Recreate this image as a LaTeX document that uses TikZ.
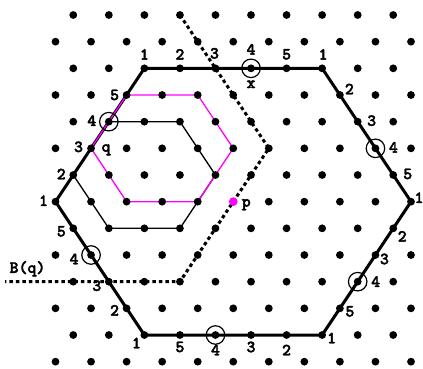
\documentclass[tikz,border=0pt]{standalone}
\usepackage{fontspec}
\newfontfamily\lblfont{lmmonolt10-bold}[Extension=.otf, FakeBold=2.2]
\definecolor{mag}{RGB}{255,0,255}
\begin{document}
\begin{tikzpicture}[x=1pt,y=-1pt,
  lbl/.style={font=\lblfont\fontsize{17}{17}\selectfont, inner sep=0pt},
  bighex/.style={line width=3pt, line join=miter},
  smallhex/.style={line width=1.3pt},
  maghex/.style={draw=mag, line width=1.3pt},
  bis/.style={line width=3pt, dash pattern=on 3.5pt off 3pt},
  ring/.style={circle, draw, line width=1.2pt, minimum size=18.5pt, inner sep=0pt}]
\useasboundingbox (0,0) rectangle (423,369);
% lattice coordinates
\foreach \r in {0,...,13}{\foreach \c in {0,...,20}{
  \pgfmathtruncatemacro\parity{mod(\r+\c,2)}
  \ifnum\parity=1 \coordinate (v\r-\c) at ({55.5+17.775*\c},{15+26.667*\r}); \fi}}
% big hexagon
\draw[bighex] (v2-5) -- (v2-15) -- (v7-20) -- (v12-15) -- (v12-5) -- (v7-0) -- cycle;
% small black hexagon
\draw[smallhex] (v4-3) -- (v4-7) -- (v6-9) -- (v8-7) -- (v8-3) -- (v6-1) -- cycle;
% magenta hexagon
\draw[maghex] (v3-4) -- (v3-8) -- (v5-10) -- (v7-8) -- (v7-4) -- (v5-2) -- cycle;
% bisector
\coordinate (bqend) at (5,281.667);
\draw[bis] (v0-7) -- (v5-12) -- (v10-7) -- (bqend);
% dots
\foreach \r in {0,...,13}{\foreach \c in {0,...,20}{
  \pgfmathtruncatemacro\parity{mod(\r+\c,2)}
  \ifnum\parity=1 \fill (v\r-\c) circle (3.9pt); \fi}}
\fill[mag] (v7-10) circle (4.3pt);
% rings
\node[ring] (r1) at (v2-11) {};
\node[ring] (r2) at (v5-18) {};
\node[ring] (r3) at (v10-17) {};
\node[ring] (r4) at (v12-9) {};
\node[ring] (r5) at (v9-2) {};
\node[ring] (r6) at (v4-3) {};
% labels
\foreach \pt/\dx/\dy/\t [count=\i] in {
  v2-5/0/-14/1, v2-7/0/-14/2, v2-9/-1/-15/3, v2-11/0/-19/4, v2-13/0/-14/5, v2-15/1/-14/1,
  v3-16/9.5/-6/2, v4-17/14/-1/3, v5-18/18/-1/4, v6-19/14.5/-1/5, v7-20/8/-4/1,
  v8-19/9/8/2, v9-18/9/4/3, v10-17/18/0/4, v11-16/10/3/5, v12-15/9.5/3/1,
  v12-13/0/15/2, v12-11/0/12/3, v12-9/0/15/4, v12-7/0/12/5, v12-5/-8/8/1,
  v11-4/-12/2/2, v10-3/-12/4/3, v9-2/-17/4/4, v8-1/-12/3/5, v7-0/-12/-1/1,
  v6-1/-12/-1/2, v5-2/-12.5/-1.5/3, v4-3/-17/-1/4, v3-4/-12/0/5,
  v5-2/15/1.5/q, v2-11/0/16/x, v7-10/13/3/p}
  \node[lbl] (lab\i) at ([shift={(\dx,\dy)}]\pt) {\t};
\node[lbl] (bq) at (27.5,268.8) {B(q)};
\end{tikzpicture}
\end{document}
